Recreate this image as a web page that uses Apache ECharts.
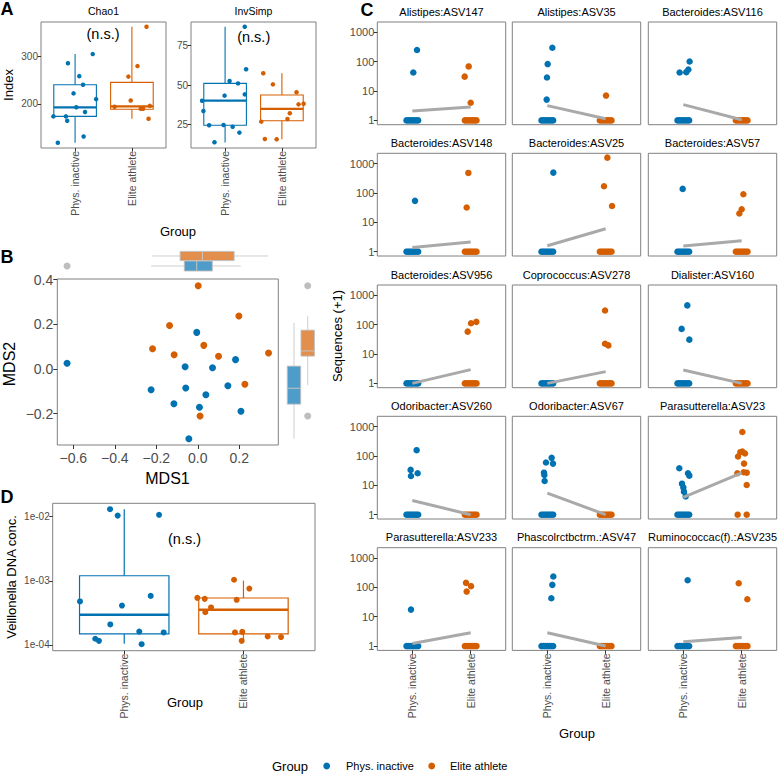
<!DOCTYPE html>
<html><head><meta charset="utf-8">
<script src="https://cdn.jsdelivr.net/npm/echarts@6/dist/echarts.min.js"></script>
<style>html,body{margin:0;padding:0;background:#fff;}#chart{width:778px;height:774px;}</style>
</head><body><div id="chart"></div>
<script>
// ================= DATA =================
const GROUPS = ['Phys. inactive', 'Elite athlete'];

// Panel A - Chao1
const CHAO1_PI_X = [0.874,1.074,1.140,0.973,1.310,1.370,1.021,1.175,0.618,0.838,0.861,1.150,0.696];
const CHAO1_PI   = [285,258,240,222,304,210,193,183,174,174,165,132,119];
const CHAO1_EL_X = [2.257,2.098,1.938,1.979,1.695,2.156,2.316,2.197,2.293];
const CHAO1_EL   = [361,279,257,207,194,190,196,190,169];
const CHAO1_BOX_PI = [119,174,193,240,304];   // lower whisker, Q1, median, Q3, upper whisker
const CHAO1_BOX_EL = [169,189,195,245,361];
const CHAO1_TICKS = [200,300];

// Panel A - InvSimp
const INVSIMP_PI_X = [1.346,1.370,1.079,1.228,0.991,1.346,0.595,0.618,0.719,0.973,1.133,1.252,0.813];
const INVSIMP_PI   = [86.7,59.9,52.5,51.0,43.3,44.1,40.1,33.6,24.6,24.8,23.7,20.0,13.9];
const INVSIMP_EL_X = [1.672,1.842,2.257,2.293,2.382,2.139,2.098,1.637,1.700,1.908];
const INVSIMP_EL   = [57.4,50.4,45.4,37.8,38.2,32.2,28.6,26.9,16.0,15.8];
const INVSIMP_BOX_PI = [13.7,24.6,40.1,51.0,86.7];
const INVSIMP_BOX_EL = [15.8,27.5,35.0,43.7,57.4];
const INVSIMP_TICKS = [25,50,75];

// Panel B - MDS
const MDS_PI_X = [-0.630,-0.005,-0.061,0.071,0.182,-0.225,-0.058,0.039,0.145,-0.115,0.008,0.208,-0.043];
const MDS_PI_Y = [0.026,0.164,0.010,0.006,0.042,-0.093,-0.085,-0.115,-0.075,-0.155,-0.171,-0.189,-0.312];
const MDS_EL_X = [0.002,0.198,-0.136,0.029,-0.218,-0.114,0.100,0.341,0.227,0.011];
const MDS_EL_Y = [0.373,0.237,0.195,0.106,0.091,0.064,0.057,0.072,-0.068,-0.210];
const MDS1_BOX_PI = [-0.225,-0.065,-0.005,0.070,0.207];
const MDS1_BOX_EL = [-0.219,-0.085,0.022,0.175,0.340];
const MDS1_OUT_PI = [-0.630];
const MDS2_BOX_PI = [-0.312,-0.157,-0.086,0.013,0.207];
const MDS2_BOX_EL = [-0.072,0.058,0.081,0.174,0.237];
const MDS2_OUT_EL = [0.373,-0.210];
const MDS1_TICKS = [-0.6,-0.4,-0.2,0,0.2];
const MDS2_TICKS = [-0.2,0,0.2,0.4];

// Panel D - Veillonella
const VEIL_PI_X = [0.881,0.945,1.292,0.629,0.981,1.222,0.883,1.126,1.331,0.757,0.788,1.146];
const VEIL_PI   = [0.0131,0.0104,0.0107,4.77e-4,4.12e-4,5.83e-4,2.09e-4,1.62e-4,1.57e-4,1.25e-4,1.16e-4,1.03e-4];
const VEIL_EL_X = [1.921,2.049,1.613,1.675,1.943,1.728,1.680,1.929,1.990,1.985,2.203,2.315];
const VEIL_EL   = [1.04e-3,7.59e-4,5.43e-4,5.24e-4,5.06e-4,3.85e-4,3.25e-4,1.57e-4,1.60e-4,1.16e-4,1.36e-4,1.33e-4];
const VEIL_BOX_PI = [1.05e-4,1.49e-4,2.95e-4,1.2e-3,1.31e-2];
const VEIL_BOX_EL = [1.17e-4,1.49e-4,3.55e-4,5.4e-4,1.01e-3];
const VEIL_TICKS = [1e-4,1e-3,1e-2];

// Panel C - ASV counts (+1)
const C_TITLES = ['Alistipes:ASV147','Alistipes:ASV35','Bacteroides:ASV116',
  'Bacteroides:ASV148','Bacteroides:ASV25','Bacteroides:ASV57',
  'Bacteroides:ASV956','Coprococcus:ASV278','Dialister:ASV160',
  'Odoribacter:ASV260','Odoribacter:ASV67','Parasutterella:ASV23',
  'Parasutterella:ASV233','Phascolrctbctrm.:ASV47','Ruminococcac(f).:ASV235'];
const C_PI_VALUES = [[250,43],[300,83,29,5.1],[102,54,44,43],[54],[496],[138],[],[],[455,72,31],
  [158,33.6,25.8,20.9],[86.5,55,60,27,22.6,14.1],[38.3,25.8,21.4,11.4,8.5,6.1,4.2],[17.5],[235,122,42.7],[176]];
const C_PI_JITTER = [[0.08,0.017],[0.086,0.006,-0.006,-0.011],[0.108,0.086,0.051,-0.063],[0.046],[0.103],[-0.011],[],[],[0.068,-0.029,0.103],
  [0.074,-0.029,0.091,-0.023],[0.074,0.097,-0.023,-0.057,-0.051,-0.046],[-0.069,0.080,0.103,-0.023,0,0.011,0.04],[-0.023],[0.103,0.086,0.069],[0.074]];
const C_EL_VALUES = [[69,31,4.0],[7.0],[],[483,32],[1603,170,36],[91,28,20],[125,112,58],[306,22.5,19.7],[],
  [],[],[656,135,143,122,96,55,25.8,27,28,10.3],[143,110,72],[],[139,39.5]];
const C_EL_JITTER = [[-0.034,-0.103,0],[0.006],[],[-0.04,-0.069],[0.029,-0.029,0.109],[0.029,0,-0.04],[0.097,0.006,-0.051],[-0.011,-0.011,0.046],[],
  [],[],[0.011,-0.023,0.011,0.057,-0.063,0.040,-0.074,0.086,0.034,0.086],[-0.08,0.006,-0.069],[],[-0.051,0.097]];
const C_ONES_JITTER = [-0.1,-0.067,-0.033,0,0.033,0.067,0.1];   // samples with zero counts (value 1)
const C_EL_ONES_JITTER_ASV23 = [-0.069,0.086];
const C_LINE_PI = [2.09,3.18,3.44,1.40,1.60,1.56,1.0,1.0,2.87,3.06,5.46,3.88,1.23,2.86,1.41];
const C_LINE_EL = [2.86,1.14,1.05,2.13,6.04,2.36,2.95,2.52,1.0,1.0,1.0,26.5,2.86,1.0,1.98];
const C_TICKS = [1,10,100,1000];

// ================= STYLE / LAYOUT =================
const FONT = '"Liberation Sans", Arial, Helvetica, sans-serif';
const BLUE = '#0072B2', ORANGE = '#D55E00';
const BLUE_FILL = '#4D9CC9', ORANGE_FILL = '#E28E4D';
const L10 = Math.log10;

const grids = [], xAxes = [], yAxes = [], series = [], graphics = [];

function addGrid(l, t, w, h, border) {
  grids.push({left: l, top: t, width: w, height: h, show: border !== false,
    borderColor: '#808080', borderWidth: 1, backgroundColor: 'transparent'});
  return grids.length - 1;
}
function mkAxis(gi, min, max, ticks, showLabels, fmt, ex) {
  ex = ex || {};
  const ax = {type: 'value', gridIndex: gi, min: min, max: max,
    splitLine: {show: false}, axisLine: {show: false, onZero: false},
    axisTick: {show: !!ticks, length: ex.tickLen || 3.5, lineStyle: {color: '#333333', width: 1}},
    axisLabel: {show: !!(ticks && showLabels), formatter: fmt, rotate: ex.rotate || 0,
      color: '#4D4D4D', fontSize: ex.fs || 10, margin: ex.margin || 3, fontFamily: FONT, hideOverlap: false},
    axisPointer: {show: false}};
  if (ticks) { ax.axisTick.customValues = ticks; ax.axisLabel.customValues = ticks; }
  return ax;
}
function addXY(gi, xa, ya) {
  xa.gridIndex = gi; ya.gridIndex = gi;
  xa.position = 'bottom'; ya.position = 'left';
  xAxes.push(xa); yAxes.push(ya);
  return [xAxes.length - 1, yAxes.length - 1];
}
const groupFmt = v => GROUPS[Math.round(v) - 1];
function groupAxis(gi, labels, fs) {
  return mkAxis(gi, 0.4, 2.6, [1, 2], labels, groupFmt, {rotate: 90, fs: fs || 10.5});
}
function scat(ax, data, color, size, z) {
  return {type: 'scatter', xAxisIndex: ax[0], yAxisIndex: ax[1], data: data, symbol: 'circle',
    symbolSize: size, itemStyle: {color: color, opacity: 1, borderWidth: 0}, silent: true, z: z || 3, animation: false};
}
function zip(xs, ys, f) { return xs.map((x, i) => [x, f ? f(ys[i]) : ys[i]]); }

// vertical box (position on x, values on y)
function vBoxSeries(ax, pos, stats, st) {
  return {type: 'custom', xAxisIndex: ax[0], yAxisIndex: ax[1], silent: true, z: 2, animation: false,
    data: [[pos].concat(stats)],
    renderItem: function (params, api) {
      const x = api.value(0);
      const P = v => api.coord([x, v]);
      const lo = P(api.value(1)), q1 = P(api.value(2)), md = P(api.value(3)), q3 = P(api.value(4)), hi = P(api.value(5));
      const hw = api.size([st.half, 0])[0];
      return {type: 'group', children: [
        {type: 'line', shape: {x1: lo[0], y1: lo[1], x2: q1[0], y2: q1[1]}, style: {stroke: st.whisk, lineWidth: st.lw}},
        {type: 'line', shape: {x1: q3[0], y1: q3[1], x2: hi[0], y2: hi[1]}, style: {stroke: st.whisk, lineWidth: st.lw}},
        {type: 'rect', shape: {x: q3[0] - hw, y: q3[1], width: 2 * hw, height: q1[1] - q3[1]}, style: {fill: st.fill, stroke: st.stroke, lineWidth: st.lw}},
        {type: 'line', shape: {x1: md[0] - hw, y1: md[1], x2: md[0] + hw, y2: md[1]}, style: {stroke: st.med, lineWidth: st.medLw}}
      ]};
    }};
}
// horizontal box (values on x, position on y)
function hBoxSeries(ax, pos, stats, st) {
  return {type: 'custom', xAxisIndex: ax[0], yAxisIndex: ax[1], silent: true, z: 2, animation: false,
    data: [[pos].concat(stats)],
    renderItem: function (params, api) {
      const y = api.value(0);
      const P = v => api.coord([v, y]);
      const lo = P(api.value(1)), q1 = P(api.value(2)), md = P(api.value(3)), q3 = P(api.value(4)), hi = P(api.value(5));
      const hh = api.size([0, st.half])[1];
      return {type: 'group', children: [
        {type: 'line', shape: {x1: lo[0], y1: lo[1], x2: q1[0], y2: q1[1]}, style: {stroke: st.whisk, lineWidth: st.lw}},
        {type: 'line', shape: {x1: q3[0], y1: q3[1], x2: hi[0], y2: hi[1]}, style: {stroke: st.whisk, lineWidth: st.lw}},
        {type: 'rect', shape: {x: q1[0], y: q1[1] - hh, width: q3[0] - q1[0], height: 2 * hh}, style: {fill: st.fill, stroke: st.stroke, lineWidth: st.lw}},
        {type: 'line', shape: {x1: md[0], y1: md[1] - hh, x2: md[0], y2: md[1] + hh}, style: {stroke: st.med, lineWidth: st.medLw}}
      ]};
    }};
}

function text(str, x, y, size, opts) {
  opts = opts || {};
  graphics.push({type: 'text', x: x, y: y, rotation: opts.rot || 0, silent: true, z: 100,
    style: {text: str, fill: opts.color || '#000000', font: (opts.bold ? 'bold ' : '') + size + 'px ' + FONT,
      textAlign: opts.align || 'center', textVerticalAlign: 'middle'}});
}

// ================= PANEL A =================
const boxStyle = c => ({stroke: c, whisk: c, med: c, fill: 'transparent', lw: 1.1, medLw: 2.3, half: 0.375});
{
  const gi = addGrid(41, 22, 125, 126);
  const ax = addXY(gi, groupAxis(gi, true), mkAxis(gi, 108, 371, CHAO1_TICKS, true, v => String(v)));
  series.push(vBoxSeries(ax, 1, CHAO1_BOX_PI, boxStyle(BLUE)));
  series.push(vBoxSeries(ax, 2, CHAO1_BOX_EL, boxStyle(ORANGE)));
  series.push(scat(ax, zip(CHAO1_PI_X, CHAO1_PI), BLUE, 4.5));
  series.push(scat(ax, zip(CHAO1_EL_X, CHAO1_EL), ORANGE, 4.5));
}
{
  const gi = addGrid(191, 22, 125, 126);
  const ax = addXY(gi, groupAxis(gi, true), mkAxis(gi, 10.3, 89.7, INVSIMP_TICKS, true, v => String(v)));
  series.push(vBoxSeries(ax, 1, INVSIMP_BOX_PI, boxStyle(BLUE)));
  series.push(vBoxSeries(ax, 2, INVSIMP_BOX_EL, boxStyle(ORANGE)));
  series.push(scat(ax, zip(INVSIMP_PI_X, INVSIMP_PI), BLUE, 4.5));
  series.push(scat(ax, zip(INVSIMP_EL_X, INVSIMP_EL), ORANGE, 4.5));
}
text('A', 7, 9, 18, {bold: true});
text('Chao1', 103.5, 11, 10.5);
text('InvSimp', 253.5, 11, 10.5);
text('(n.s.)', 103, 34, 14.5);
text('(n.s.)', 253.7, 36.7, 14.5);
text('Index', 8, 85, 13, {rot: Math.PI / 2});
text('Group', 178, 231, 13);

// ================= PANEL B =================
const mdsFmt = v => (v < 0 ? '\u2212' : '') + Math.abs(v).toFixed(1);
const MX = [-0.677, 0.388], MY = [-0.340, 0.403];
{
  const gi = addGrid(57.3, 279, 221, 166);
  const ax = addXY(gi, mkAxis(gi, MX[0], MX[1], MDS1_TICKS, true, mdsFmt, {fs: 14, tickLen: 4, margin: 6}),
    mkAxis(gi, MY[0], MY[1], MDS2_TICKS, true, mdsFmt, {fs: 14, tickLen: 4, margin: 4}));
  series.push(scat(ax, zip(MDS_PI_X, MDS_PI_Y), BLUE, 7));
  series.push(scat(ax, zip(MDS_EL_X, MDS_EL_Y), ORANGE, 7));
}
const margStyle = (fill, half) => ({stroke: '#BDBDBD', whisk: '#C9C9C9', med: '#C4C4C4', fill: fill, lw: 0.9, medLw: 1, half: half});
{
  const gi = addGrid(57.3, 249, 221, 26, false);
  const ax = addXY(gi, mkAxis(gi, MX[0], MX[1], null, false), mkAxis(gi, 0, 1, null, false));
  series.push(hBoxSeries(ax, 0.346, MDS1_BOX_PI, margStyle(BLUE_FILL, 0.192)));
  series.push(hBoxSeries(ax, 0.731, MDS1_BOX_EL, margStyle(ORANGE_FILL, 0.177)));
  series.push(scat(ax, MDS1_OUT_PI.map(v => [v, 0.346]), '#BEBEBE', 7));
}
{
  const gi = addGrid(282, 279, 36, 166, false);
  const ax = addXY(gi, mkAxis(gi, 0, 1, null, false), mkAxis(gi, MY[0], MY[1], null, false));
  series.push(vBoxSeries(ax, 0.333, MDS2_BOX_PI, margStyle(BLUE_FILL, 0.186)));
  series.push(vBoxSeries(ax, 0.714, MDS2_BOX_EL, margStyle(ORANGE_FILL, 0.186)));
  series.push(scat(ax, MDS2_OUT_EL.map(v => [0.714, v]), '#BEBEBE', 7));
}
text('B', 7, 256.5, 18, {bold: true});
text('MDS2', 9, 364, 16, {rot: Math.PI / 2});
text('MDS1', 167.5, 478, 16);

// ================= PANEL D =================
{
  const gi = addGrid(52.7, 503.3, 262.3, 147.4);
  const ax = addXY(gi, groupAxis(gi, true),
    mkAxis(gi, -4.089, -1.791, VEIL_TICKS.map(L10), true, v => '1e-0' + Math.round(-v)));
  series.push(vBoxSeries(ax, 1, VEIL_BOX_PI.map(L10), {stroke: BLUE, whisk: BLUE, med: BLUE, fill: 'transparent', lw: 1.2, medLw: 2.5, half: 0.375}));
  series.push(vBoxSeries(ax, 2, VEIL_BOX_EL.map(L10), {stroke: ORANGE, whisk: ORANGE, med: ORANGE, fill: 'transparent', lw: 1.2, medLw: 2.5, half: 0.375}));
  series.push(scat(ax, zip(VEIL_PI_X, VEIL_PI, L10), BLUE, 6));
  series.push(scat(ax, zip(VEIL_EL_X, VEIL_EL, L10), ORANGE, 6));
}
text('D', 7, 497, 18, {bold: true});
text('(n.s.)', 184.5, 539, 14.5);
text('Veillonella DNA conc.', 11, 577, 13, {rot: Math.PI / 2});
text('Group', 185, 702, 13);

// ================= PANEL C =================
const C_LEFTS = [377.3, 512.3, 648.3], C_TOPS = [22, 153.3, 285, 416.3, 547.7];
const C_W = 128.4, C_H = 102.7;
C_TITLES.forEach((title, i) => {
  const r = Math.floor(i / 3), c = i % 3;
  const gi = addGrid(C_LEFTS[c], C_TOPS[r], C_W, C_H);
  const ax = addXY(gi, r === 4 ? groupAxis(gi, true, 10.5) : mkAxis(gi, 0.4, 2.6, null, false),
    c === 0 ? mkAxis(gi, -0.147, 3.353, C_TICKS.map(L10), true, v => String(Math.round(Math.pow(10, v))), {fs: 11})
            : mkAxis(gi, -0.147, 3.353, null, false));
  const piPts = C_PI_VALUES[i].map((v, k) => [1 + C_PI_JITTER[i][k], L10(v)])
    .concat(C_ONES_JITTER.map(j => [1 + j, 0]));
  const elOnes = (i === 11 ? C_EL_ONES_JITTER_ASV23 : C_ONES_JITTER);
  const elPts = C_EL_VALUES[i].map((v, k) => [2 + C_EL_JITTER[i][k], L10(v)])
    .concat(elOnes.map(j => [2 + j, 0]));
  series.push(scat(ax, piPts, BLUE, 6.5));
  series.push(scat(ax, elPts, ORANGE, 6.5));
  series.push({type: 'line', xAxisIndex: ax[0], yAxisIndex: ax[1], silent: true, z: 5, animation: false,
    data: [[1, L10(C_LINE_PI[i])], [2, L10(C_LINE_EL[i])]], symbol: 'none', showSymbol: false,
    lineStyle: {color: '#A9A9A9', width: 3}});
  text(title, C_LEFTS[c] + C_W / 2, C_TOPS[r] - 10.3, 11);
});
text('C', 367, 10, 18, {bold: true});
text('Sequences (+1)', 337, 336, 13, {rot: Math.PI / 2});
text('Group', 577, 733, 13);

// ================= LEGEND =================
text('Group', 290, 766, 13);
graphics.push({type: 'circle', shape: {cx: 326.7, cy: 766, r: 3.4}, style: {fill: BLUE}, silent: true});
text('Phys. inactive', 346, 766, 11, {align: 'left'});
graphics.push({type: 'circle', shape: {cx: 431.7, cy: 766, r: 3.4}, style: {fill: ORANGE}, silent: true});
text('Elite athlete', 450, 766, 11, {align: 'left'});

// ================= RENDER =================
const chart = echarts.init(document.getElementById('chart'), null, {renderer: 'svg', width: 778, height: 774});
chart.setOption({
  animation: false,
  backgroundColor: '#ffffff',
  textStyle: {fontFamily: FONT},
  grid: grids, xAxis: xAxes, yAxis: yAxes, series: series, graphic: graphics
});
</script></body></html>
